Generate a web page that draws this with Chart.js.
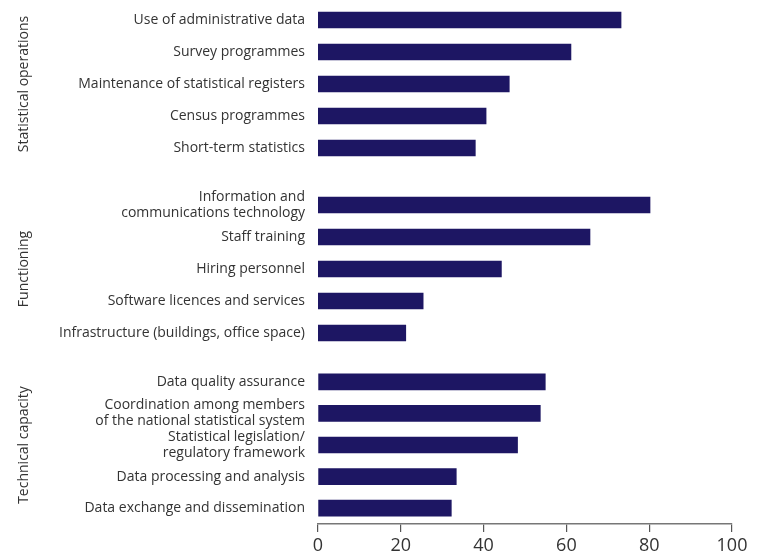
<!DOCTYPE html>
<html>
<head>
<meta charset="utf-8">
<script src="https://cdn.jsdelivr.net/npm/chart.js@4/dist/chart.umd.min.js"></script>
<style>
  body { margin: 0; background: #fff; }
  #wrap { position: relative; width: 757px; height: 557px; }
  canvas { position: absolute; left: 0; }
</style>
</head>
<body>
<div id="wrap">
  <canvas id="c1" width="757" height="168" style="top:0"></canvas>
  <canvas id="c2" width="757" height="185" style="top:168px"></canvas>
  <canvas id="c3" width="757" height="204" style="top:353px"></canvas>
</div>
<script>
// Group titles
const groupTitles = ['Statistical operations', 'Functioning', 'Technical capacity'];

// Categories per group
const opsLabels = [
    'Use of administrative data',
    'Survey programmes',
    'Maintenance of statistical registers',
    'Census programmes',
    'Short-term statistics'
];
const funcLabels = [
    ['Information and', 'communications technology'],
    'Staff training',
    'Hiring personnel',
    'Software licences and services',
    'Infrastructure (buildings, office space)'
];
const techLabels = [
    'Data quality assurance',
    ['Coordination among members', 'of the national statistical system'],
    ['Statistical legislation/', 'regulatory framework'],
    'Data processing and analysis',
    'Data exchange and dissemination'
];

// Values (percent)
const opsValues = [73.2, 61.1, 46.2, 40.6, 38.0];
const funcValues = [80.2, 65.7, 44.3, 25.4, 21.2];
const techValues = [54.9, 53.7, 48.2, 33.4, 32.2];

// x axis ticks
const xTicks = [0, 20, 40, 60, 80, 100];

const barColor = '#1d1663';
const textColor = '#333333';
const fontFamily = '"Open Sans", "DejaVu Sans", sans-serif';

function makeChart(id, title, labels, values, showX, padTop, padBottom) {
    const ctx = document.getElementById(id).getContext('2d');
    return new Chart(ctx, {
        type: 'bar',
        data: {
            labels: labels,
            datasets: [{
                data: values,
                backgroundColor: barColor,
                barThickness: 16,
                categoryPercentage: 1,
                borderWidth: 0
            }]
        },
        options: {
            responsive: false,
            animation: false,
            indexAxis: 'y',
            layout: { padding: { top: padTop, bottom: padBottom, left: 0, right: 25 } },
            plugins: { legend: { display: false }, tooltip: { enabled: false } },
            scales: {
                x: {
                    display: showX,
                    min: 0,
                    max: 100,
                    afterBuildTicks: function (scale) {
                        scale.ticks = xTicks.map(v => ({ value: v }));
                    },
                    afterFit: function (scale) {
                        if (showX) scale.height = 33;
                        scale.paddingLeft = 0;
                        scale.paddingRight = 0;
                    },
                    border: { display: true, color: '#777', width: 1.5 },
                    grid: {
                        drawOnChartArea: false,
                        drawTicks: true,
                        tickLength: 8,
                        color: '#555',
                        lineWidth: 1.2
                    },
                    ticks: {
                        padding: 3,
                        color: textColor,
                        font: { family: fontFamily, size: 18 },
                        maxRotation: 0
                    }
                },
                y: {
                    afterFit: function (scale) {
                        scale.width = 318;
                        // keep the category rows at a fixed pitch
                        scale.paddingTop = 0;
                        scale.paddingBottom = 0;
                    },
                    border: { display: false },
                    grid: { display: false, drawTicks: false },
                    ticks: {
                        padding: 13,
                        color: textColor,
                        autoSkip: false,
                        font: { family: fontFamily, size: 14, lineHeight: 1.15 }
                    },
                    title: {
                        display: true,
                        text: title,
                        color: textColor,
                        padding: { top: 16, bottom: 0 },
                        font: { family: fontFamily, size: 14 }
                    }
                }
            }
        }
    });
}

makeChart('c1', groupTitles[0], opsLabels, opsValues, false, 4, 4);
makeChart('c2', groupTitles[1], funcLabels, funcValues, false, 21, 4);
makeChart('c3', groupTitles[2], techLabels, techValues, true, 13, 0);
</script>
</body>
</html>
